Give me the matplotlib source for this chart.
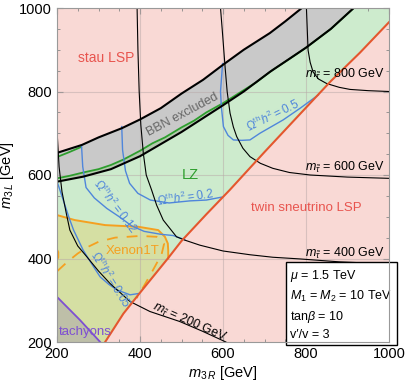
import matplotlib.pyplot as plt
from matplotlib.ticker import MultipleLocator

plt.rcParams['font.family'] = ['Liberation Sans', 'DejaVu Sans']
plt.rcParams['mathtext.fontset'] = 'custom'
plt.rcParams['mathtext.rm'] = 'Liberation Sans'
plt.rcParams['mathtext.it'] = 'Liberation Sans:italic'
plt.rcParams['mathtext.bf'] = 'Liberation Sans:bold'

# --- data: (m3R, m3L) in GeV ---
# BBN excluded band edges
bbn_top_x = [200, 260, 300, 356, 400, 450, 500, 552, 600, 650, 713, 750, 790]
bbn_top_y = [653, 672, 690, 712, 733, 760, 795, 828, 864, 900, 940, 968, 1000]
bbn_low_x = [200, 263, 330, 400, 450, 500, 550, 600, 650, 713, 800, 860, 915]
bbn_low_y = [584, 596, 614, 645, 674, 703, 735, 767, 800, 847, 905, 950, 1000]

# LZ bound (green)
lz_x = [200, 230, 263, 300, 330, 360, 400, 430, 460, 500, 530, 560, 600, 640, 680, 720, 760, 800, 860, 915]
lz_y = [592, 598, 606, 614, 624, 637, 658, 676, 690, 714, 730, 750, 772, 797, 822, 852, 878, 905, 950, 1000]
lz_top_x = [200, 230, 258]
lz_top_y = [643, 655, 667]

# twin sneutrino LSP boundary
snu_x = [316, 360, 400, 467, 500, 560, 617, 700, 778, 860, 930, 1000]
snu_y = [200, 268, 318, 400, 442, 506, 565, 655, 738, 825, 893, 966]

# Xenon1T bound
xe_x = [200, 243, 316, 396, 444, 460, 467, 468, 468]
xe_y = [504, 492, 480, 476, 468, 452, 436, 420, 400]
xe_dash_x = [201, 225, 250, 275, 300, 340, 400, 440, 458, 452, 430, 410, 392]
xe_dash_y = [370, 392, 412, 428, 440, 450, 454, 452, 435, 410, 370, 335, 305]
xe_arc_x = [200, 203, 203, 200]
xe_arc_y = [421, 415, 403, 397]

# tachyons
tach_x = [200, 230, 255, 280, 304]
tach_y = [308, 278, 253, 226, 200]

# relic abundance contours
om05_x = [200, 215, 230, 240, 263, 285, 304, 325, 344, 376, 396]
om05_y = [585, 540, 495, 468, 420, 385, 356, 338, 325, 313, 316]
om012_x = [259, 262, 270, 290, 320, 350, 380, 410, 450, 480, 508]
om012_y = [672, 620, 570, 545, 520, 500, 478, 465, 458, 455, 445]
om02_x = [356, 358, 365, 375, 395, 425, 470, 520, 560, 597]
om02_y = [716, 660, 610, 580, 556, 540, 533, 538, 540, 547]
om05b_x = [599, 594, 596, 601, 612, 625, 645, 665, 689, 745, 786, 830]
om05b_y = [867, 800, 764, 716, 695, 684, 683, 684, 700, 732, 760, 792]

# stau mass contours
st200_x = [201, 205, 212, 222, 231, 250, 272, 300, 328, 376, 424, 496, 550, 607]
st200_y = [690, 620, 560, 510, 468, 430, 404, 370, 340, 297, 273, 249, 226, 200]
st400_x = [393, 395, 398, 402, 408, 415, 428, 440, 456, 488, 508, 544, 600, 665, 720, 785, 880, 1000]
st400_y = [1000, 900, 800, 720, 652, 600, 564, 528, 492, 452, 444, 432, 418, 409, 403, 399, 392, 387]
st600_x = [594, 598, 605, 610, 617, 625, 633, 648, 665, 690, 720, 760, 810, 900, 1000]
st600_y = [1000, 950, 859, 800, 748, 715, 692, 664, 644, 628, 616, 606, 600, 595, 592]
st800_x = [801, 803, 805, 810, 817, 830, 850, 880, 906, 950, 1000]
st800_y = [1000, 950, 899, 870, 847, 830, 819, 810, 805, 802, 800]

ticks = [200, 400, 600, 800, 1000]

pink = '#F9D9D5'
green_fill = '#CDEBCD'
olive = '#D5DFA3'
tach_fill = '#BEBFA8'
grey_band = '#C9C9C9'
strip = '#B4CAAE'
red = '#E4572E'
orange = '#F5A020'
blue = '#4F86DB'
lzgreen = '#2E9E2E'
purple = '#7E4FD2'

fig = plt.figure(figsize=(4.07, 3.83), dpi=100)
ax = fig.add_axes([57 / 407, 41 / 383, 332 / 407, 334 / 383])
ax.set_facecolor(pink)

# LZ allowed (green) region
gx = lz_x + [1000, 1000] + snu_x[::-1] + [200]
gy = lz_y + [1000, snu_y[-1]] + snu_y[::-1] + [200]
ax.fill(gx, gy, color=green_fill, lw=0, zorder=1)

# Xenon1T region (clipped at the sneutrino line)
ox = xe_x + [440, 400, 360, 316, 200]
oy = xe_y + [368, 318, 268, 200, 200]
ax.fill(ox, oy, color=olive, lw=0, zorder=2)

# tachyons
ax.fill(tach_x + [200], tach_y + [200], color=tach_fill, lw=0, zorder=3)

# BBN band
bx = bbn_top_x + bbn_low_x[::-1]
by = bbn_top_y + bbn_low_y[::-1]
ax.fill(bx, by, color=grey_band, lw=0, zorder=4)
ax.fill(lz_x + bbn_low_x[::-1], lz_y + bbn_low_y[::-1], color=strip, lw=0, zorder=4)

# grid
for t in ticks[1:-1]:
    ax.axvline(t, color='#B8A8A8', lw=0.8, alpha=0.5, zorder=5)
    ax.axhline(t, color='#B8A8A8', lw=0.8, alpha=0.5, zorder=5)

# lines
ax.plot(lz_x, lz_y, color=lzgreen, lw=1.3, zorder=6)
ax.plot(lz_top_x, lz_top_y, color=lzgreen, lw=1.3, zorder=6)
ax.plot(bbn_top_x, bbn_top_y, color='black', lw=1.5, zorder=7)
ax.plot(bbn_low_x, bbn_low_y, color='black', lw=1.5, zorder=7)
ax.plot(xe_x, xe_y, color=orange, lw=1.4, zorder=6)
ax.plot(xe_arc_x, xe_arc_y, color=orange, lw=1.4, zorder=6)
ax.plot(xe_dash_x, xe_dash_y, color=orange, lw=1.3, ls=(0, (6, 5)), zorder=6)
ax.plot(tach_x, tach_y, color=purple, lw=1.3, zorder=6)
for cx, cy in [(om05_x, om05_y), (om012_x, om012_y), (om02_x, om02_y), (om05b_x, om05b_y)]:
    ax.plot(cx, cy, color=blue, lw=1.0, zorder=6)
for cx, cy in [(st200_x, st200_y), (st400_x, st400_y), (st600_x, st600_y), (st800_x, st800_y)]:
    ax.plot(cx, cy, color='black', lw=0.8, zorder=6)
ax.plot(snu_x, snu_y, color=red, lw=1.5, zorder=8)

# labels
ax.text(318, 880, 'stau LSP', color='#E8544E', fontsize=10, ha='center', va='center', zorder=9)
ax.text(503, 744, 'BBN excluded', color='#666666', fontsize=9, rotation=28,
        ha='center', va='center', zorder=9)
ax.text(521, 600, 'LZ', color=lzgreen, fontsize=10.5, ha='center', va='center', zorder=9)
ax.text(801, 521, 'twin sneutrino LSP', color='#E8544E', fontsize=9.5, ha='center', va='center', zorder=9)
ax.text(383, 418, 'Xenon1T', color=orange, fontsize=9.5, ha='center', va='center', zorder=9)
ax.text(267, 224, 'tachyons', color=purple, fontsize=9.5, ha='center', va='center', zorder=9)

ax.text(340, 525, r'$\Omega^{\rm th}h^2 = 0.12$', color=blue, fontsize=8.5, rotation=-53,
        ha='center', va='center', zorder=9)
ax.text(330, 350, r'$\Omega^{\rm th}h^2 = 0.05$', color=blue, fontsize=8.5, rotation=-58,
        ha='center', va='center', zorder=9)
ax.text(508, 545, r'$\Omega^{\rm th}h^2 = 0.2$', color=blue, fontsize=8.5, rotation=8,
        ha='center', va='center', zorder=9)
ax.text(720, 742, r'$\Omega^{\rm th}h^2 = 0.5$', color=blue, fontsize=8.5, rotation=26,
        ha='center', va='center', zorder=9)

ax.text(894, 842, r'$m_{\tilde{\tau}}$ = 800 GeV', fontsize=9, ha='center', va='center', zorder=9)
ax.text(894, 619, r'$m_{\tilde{\tau}}$ = 600 GeV', fontsize=9, ha='center', va='center', zorder=9)
ax.text(894, 413, r'$m_{\tilde{\tau}}$ = 400 GeV', fontsize=9, ha='center', va='center', zorder=9)
ax.text(520, 248, r'$m_{\tilde{\tau}}$ = 200 GeV', fontsize=9, rotation=-24,
        ha='center', va='center', zorder=9)

# parameter box
box_text = '\n'.join([r'$\mu$ = 1.5 TeV', r'$M_1$ = $M_2$ = 10 TeV',
                      r'tan$\beta$ = 10', "v\u2032/v = 3"])
ax.text(762, 290, box_text, fontsize=9, ha='left', va='center', linespacing=1.45, zorder=10,
        bbox=dict(boxstyle='square,pad=0.35', fc='white', ec='black', lw=1.0))

ax.set_xlim(200, 1000)
ax.set_ylim(200, 1000)
ax.set_xticks(ticks)
ax.set_yticks(ticks)
ax.xaxis.set_minor_locator(MultipleLocator(50))
ax.yaxis.set_minor_locator(MultipleLocator(50))
ax.tick_params(which='both', direction='in', top=True, right=True, color='#888888',
               labelsize=10.5)
ax.tick_params(which='major', length=4)
ax.tick_params(which='minor', length=2)
for s in ax.spines.values():
    s.set_color('#999999')
    s.set_zorder(11)
ax.set_xlabel(r'$m_{3\,R}$ [GeV]', fontsize=10.5, labelpad=2)
ax.set_ylabel(r'$m_{3\,L}$ [GeV]', fontsize=10.5, labelpad=2)

fig.savefig('out.png', dpi=100)
